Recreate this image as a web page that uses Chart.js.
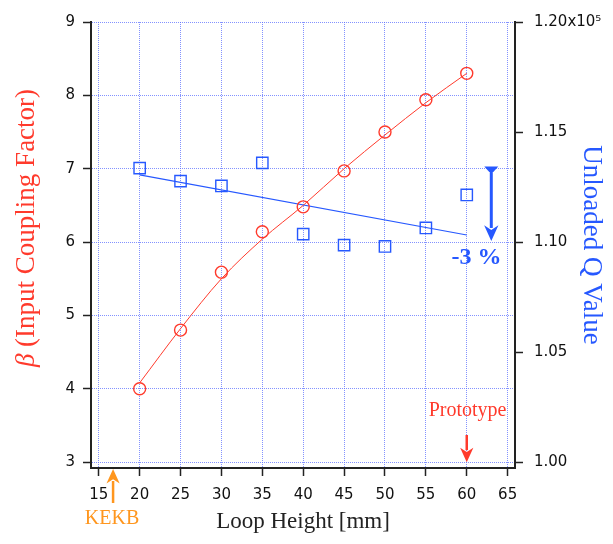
<!DOCTYPE html>
<html>
<head>
<meta charset="utf-8">
<script src="https://cdn.jsdelivr.net/npm/chart.js@4"></script>
<style>
  html, body { margin: 0; padding: 0; background: #fff; }
  #wrap { width: 613px; height: 544px; }
</style>
</head>
<body>
<div id="wrap"><canvas id="chart"></canvas></div>
<script>
// loop heights [mm]
const loopHeight = [20, 25, 30, 35, 40, 45, 50, 55, 60];
// beta measurements and fit curve
const betaValues = [4.0, 4.8, 5.59, 6.14, 6.48, 6.97, 7.5, 7.94, 8.3];
const betaFit = [4.08, 4.82, 5.5, 6.04, 6.5, 7.0, 7.46, 7.9, 8.3];
// unloaded Q (x10^5) measurements and linear fit
const qValues = [1.1336, 1.1277, 1.1255, 1.136, 1.1036, 1.0986, 1.098, 1.1064, 1.1214];
const qFitX = [20, 60];
const qFit = [1.1305, 1.1032];
// ticks
const xTicks = [15, 20, 25, 30, 35, 40, 45, 50, 55, 60, 65];
const yTicks = [3, 4, 5, 6, 7, 8, 9];
const y2Ticks = [1.00, 1.05, 1.10, 1.15, 1.20];

const red = 'rgb(255,58,44)';
const blue = 'rgb(38,88,255)';
const orange = 'rgb(255,150,30)';
const gridColor = 'rgba(90,110,255,0.75)';
const tickFont = { family: 'DejaVu Sans', size: 15 };
const tickColor = '#111';
const serif = 'Liberation Serif';

const pts = (xs, ys) => xs.map((x, i) => ({ x: x, y: ys[i] }));

function arrow(ctx, x, y1, y2, color, width, head) {
  const dir = y2 > y1 ? 1 : -1;
  ctx.save();
  ctx.strokeStyle = color;
  ctx.fillStyle = color;
  ctx.lineWidth = width;
  ctx.beginPath();
  ctx.moveTo(x, y1);
  ctx.lineTo(x, y2 - dir * head);
  ctx.stroke();
  ctx.beginPath();
  ctx.moveTo(x, y2);
  ctx.lineTo(x - head * 0.55, y2 - dir * head * 1.2);
  ctx.lineTo(x, y2 - dir * head * 0.85);
  ctx.lineTo(x + head * 0.55, y2 - dir * head * 1.2);
  ctx.closePath();
  ctx.fill();
  ctx.restore();
}

const notes = {
  id: 'notes',
  afterDraw(chart) {
    const ctx = chart.ctx;
    const xs = chart.scales.x, ys = chart.scales.y, y2s = chart.scales.y2;

    // left axis title, beta in italics
    ctx.save();
    ctx.translate(27, 228);
    ctx.rotate(-Math.PI / 2);
    ctx.fillStyle = red;
    ctx.textBaseline = 'middle';
    const f1 = 'italic 27px ' + serif, f2 = '27px ' + serif;
    const t1 = 'β ', t2 = '(Input Coupling Factor)';
    ctx.font = f1;
    const w1 = ctx.measureText(t1).width;
    ctx.font = f2;
    const w2 = ctx.measureText(t2).width;
    let sx = -(w1 + w2) / 2;
    ctx.font = f1;
    ctx.fillText(t1, sx, 0);
    ctx.font = f2;
    ctx.fillText(t2, sx + w1, 0);
    ctx.restore();

    // -3 % arrow
    const ax = xs.getPixelForValue(63);
    const top = y2s.getPixelForValue(1.1336);
    const bot = y2s.getPixelForValue(1.1005);
    ctx.save();
    ctx.fillStyle = blue;
    ctx.beginPath();
    ctx.moveTo(ax - 7, top - 1.5);
    ctx.lineTo(ax + 7, top - 1.5);
    ctx.lineTo(ax + 2, top + 4);
    ctx.lineTo(ax - 2, top + 4);
    ctx.closePath();
    ctx.fill();
    ctx.restore();
    arrow(ctx, ax, top, bot, blue, 3, 13);
    ctx.save();
    ctx.fillStyle = blue;
    ctx.font = 'bold 24px ' + serif;
    ctx.textAlign = 'center';
    ctx.textBaseline = 'middle';
    ctx.fillText('-3 %', xs.getPixelForValue(61.2), y2s.getPixelForValue(1.0927));
    // Prototype
    ctx.fillStyle = red;
    ctx.font = '20px ' + serif;
    ctx.fillText('Prototype', xs.getPixelForValue(60.1), ys.getPixelForValue(3.7));
    ctx.restore();
    arrow(ctx, xs.getPixelForValue(60), ys.getPixelForValue(3.37), ys.getPixelForValue(3.0), red, 2.5, 12);
    // KEKB
    const kx = xs.getPixelForValue(16.75);
    arrow(ctx, kx, chart.chartArea.bottom + 35, chart.chartArea.bottom + 1, orange, 2.5, 12);
    ctx.save();
    ctx.fillStyle = orange;
    ctx.font = '20px ' + serif;
    ctx.textAlign = 'center';
    ctx.textBaseline = 'middle';
    ctx.fillText('KEKB', kx - 1, chart.chartArea.bottom + 51);
    ctx.restore();
  }
};

new Chart(document.getElementById('chart'), {
  type: 'scatter',
  data: {
    datasets: [
      {
        data: pts(loopHeight, betaFit), yAxisID: 'y', showLine: true,
        borderColor: red, borderWidth: 1, pointRadius: 0, tension: 0.4,
        cubicInterpolationMode: 'monotone'
      },
      {
        data: pts(loopHeight, betaValues), yAxisID: 'y', showLine: false,
        pointStyle: 'circle', pointRadius: 6, borderColor: red, borderWidth: 1.4,
        backgroundColor: 'rgba(0,0,0,0)'
      },
      {
        data: pts(qFitX, qFit), yAxisID: 'y2', showLine: true,
        borderColor: blue, borderWidth: 1.2, pointRadius: 0
      },
      {
        data: pts(loopHeight, qValues), yAxisID: 'y2', showLine: false,
        pointStyle: 'rect', pointRadius: 8, borderColor: blue, borderWidth: 1.4,
        backgroundColor: 'rgba(0,0,0,0)'
      }
    ]
  },
  options: {
    responsive: true,
    maintainAspectRatio: false,
    animation: false,
    layout: { padding: { top: 22, left: 0, right: 0, bottom: 0 } },
    plugins: { legend: { display: false }, tooltip: { enabled: false } },
    scales: {
      x: {
        type: 'linear', min: 14.05, max: 65.9,
        afterBuildTicks: (axis) => { axis.ticks = xTicks.map(v => ({ value: v })); },
        afterFit: (axis) => { axis.height = 76; },
        ticks: { color: tickColor, font: tickFont, padding: 10, maxRotation: 0, autoSkip: false },
        grid: { color: gridColor, lineWidth: 1, tickColor: '#222', tickLength: 8, tickWidth: 1.5, tickBorderDash: [] },
        border: { display: true, color: '#222', width: 2, dash: [1, 1] },
        title: { display: true, text: 'Loop Height [mm]', color: '#222', font: { family: serif, size: 23 }, padding: { top: 0, bottom: 8 } }
      },
      y: {
        position: 'left', min: 2.92, max: 9,
        afterBuildTicks: (axis) => { axis.ticks = yTicks.map(v => ({ value: v })); },
        afterFit: (axis) => { axis.width = 91; },
        ticks: { color: tickColor, font: tickFont, padding: 8 },
        grid: { color: gridColor, lineWidth: 1, tickColor: '#222', tickLength: 8, tickWidth: 1.5, tickBorderDash: [] },
        border: { display: true, color: '#222', width: 2, dash: [1, 1] },
        title: { display: false }
      },
      y2: {
        position: 'right', min: 0.99733, max: 1.2,
        afterBuildTicks: (axis) => { axis.ticks = y2Ticks.map(v => ({ value: v })); },
        afterFit: (axis) => { axis.width = 98; },
        ticks: {
          color: tickColor, font: tickFont, padding: 11,
          callback: (v) => v === 1.2 ? '1.20x10⁵' : v.toFixed(2)
        },
        grid: { drawOnChartArea: false, tickColor: '#222', tickLength: 8, tickWidth: 1.5 },
        border: { display: true, color: '#222', width: 2 },
        title: { display: true, text: 'Unloaded Q Value', color: blue, font: { family: serif, size: 27 }, padding: { top: 6, bottom: 0 } }
      }
    }
  },
  plugins: [notes]
});
</script>
</body>
</html>
